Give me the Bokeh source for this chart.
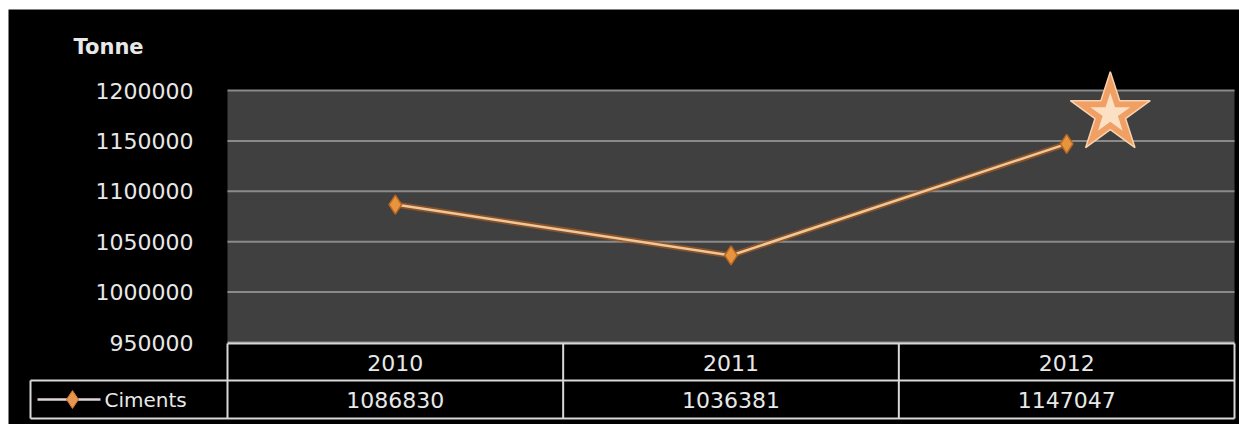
from bokeh.plotting import figure
from bokeh.models import Range1d
from bokeh.core.properties import value
from bokeh.embed import file_html
from bokeh.resources import INLINE

# ---- data ----
years = ["2010", "2011", "2012"]
ciments = [1086830, 1036381, 1147047]
y_ticks = [950000, 1000000, 1050000, 1100000, 1150000, 1200000]
y_tick_labels = ["950000", "1000000", "1050000", "1100000", "1150000", "1200000"]
unit_label = "Tonne"
series_name = "Ciments"

# ---- layout (pixels) ----
W, H = 1239, 424
PL, PR, PT, PB = 227, 1234, 90, 342          # plot area
ROW1, ROW2 = 380, 418                         # table row bottoms
LEG_L = 30
Y0, Y1 = y_ticks[0], y_ticks[-1]
k = (Y1 - Y0) / (PB - PT)
val_range = Range1d(Y0 - (H - PB) * k, Y1 + PT * k)
n = len(years)
colw = (PR - PL) / n
cat_range = Range1d(-PL / colw - 0.5, (W - PL) / colw - 0.5)

FONT = value("DejaVu Sans")
TXT = "#e8e8e8"

p = figure(width=W, height=H, x_range=Range1d(0, W), y_range=Range1d(H, 0),
           output_backend="svg", toolbar_location=None, min_border=0)
p.extra_x_ranges = {"cat": cat_range}
p.extra_y_ranges = {"val": val_range}
p.axis.visible = False
p.grid.visible = False
p.outline_line_color = None
p.background_fill_color = "white"
p.border_fill_color = "white"

# black chart background
p.quad(left=[8], right=[W], top=[9], bottom=[H], fill_color="black", line_color=None)
# plot area
p.quad(left=[PL], right=[PR], top=[PT], bottom=[PB], fill_color="#404040", line_color=None)

# gridlines
p.segment(x0=[PL] * len(y_ticks), x1=[PR] * len(y_ticks), y0=y_ticks, y1=y_ticks,
          y_range_name="val", line_color="#8a8a8a", line_width=2)

# y tick labels
p.text(x=[193] * len(y_ticks), y=y_ticks, text=y_tick_labels, y_range_name="val",
       text_align="right", text_baseline="middle", text_font=FONT,
       text_font_size="22px", text_color=TXT)

# unit label
p.text(x=[73], y=[46], text=[unit_label], text_align="left", text_baseline="middle",
       text_font=FONT, text_font_size="21px", text_font_style="bold", text_color=TXT)

# ---- data table ----
TL = "#d8d8d8"
cols = [PL + i * colw for i in range(n + 1)]
hx0 = [PL, LEG_L, LEG_L]
hx1 = [PR, PR, PR]
hy = [PB + 1, ROW1, ROW2]
p.segment(x0=hx0, x1=hx1, y0=hy, y1=hy, line_color=TL, line_width=2)
p.segment(x0=cols, x1=cols, y0=[PB + 1] * len(cols), y1=[ROW2] * len(cols),
          line_color=TL, line_width=2)
p.segment(x0=[LEG_L], x1=[LEG_L], y0=[ROW1], y1=[ROW2], line_color=TL, line_width=2)

xs = list(range(n))
p.text(x=xs, y=[(PB + ROW1) / 2 + 1] * n, text=years, x_range_name="cat",
       text_align="center", text_baseline="middle", text_font=FONT,
       text_font_size="22px", text_color=TXT)
p.text(x=xs, y=[(ROW1 + ROW2) / 2] * n, text=[str(v) for v in ciments], x_range_name="cat",
       text_align="center", text_baseline="middle", text_font=FONT,
       text_font_size="22px", text_color=TXT)

# legend key
ly = (ROW1 + ROW2) / 2
p.segment(x0=[37], x1=[100], y0=[ly], y1=[ly], line_color="#e0d4dc", line_width=2.5)
p.scatter(x=[72], y=[ly], marker="diamond", size=18, fill_color="#e89550", line_color="#c8702c")
p.text(x=[104], y=[ly], text=[series_name], text_align="left", text_baseline="middle",
       text_font=FONT, text_font_size="20px", text_color=TXT)

# ---- series ----
p.line(x=xs, y=ciments, x_range_name="cat", y_range_name="val",
       line_color="#a85a1c", line_width=6, line_alpha=0.7)
p.line(x=xs, y=ciments, x_range_name="cat", y_range_name="val",
       line_color="#efc79c", line_width=2.5)
p.scatter(x=xs, y=ciments, x_range_name="cat", y_range_name="val", marker="diamond",
          size=19, fill_color="#e8943f", line_color="#b8651f", line_width=1.5)

# star decoration near last point
sx, sy = xs[-1] + 0.13, ciments[-1] + 30000
p.scatter(x=[sx], y=[sy], x_range_name="cat", y_range_name="val",
          marker="star", size=84, fill_color="#f0a065", line_color="#f9d2ae", line_width=1.5)
p.scatter(x=[sx], y=[sy], x_range_name="cat", y_range_name="val",
          marker="star", size=42, fill_color="#fff0dc", line_color=None, fill_alpha=0.8)

open("out.html", "w").write(file_html(p, INLINE))
